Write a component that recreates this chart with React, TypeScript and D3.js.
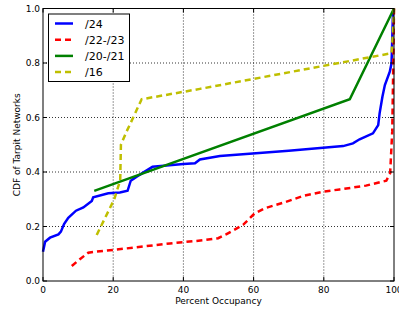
import { useEffect, useRef } from 'react'
import * as d3 from 'd3'

// Percent occupancy (x) vs CDF (y)
const occ24 = [0, 0.6, 2, 4.4, 5.1, 6, 7.2, 9.4, 11.5, 13.9, 14.3, 18.6, 21.9, 24.1, 25, 26.7, 31.2, 40, 43.3, 44.7, 50.4, 70, 85.5, 88.3, 90.2, 94, 95.5, 95.9, 96.7, 97.4, 98.8, 99.3, 99.7, 100]
const cdf24 = [0.107, 0.144, 0.159, 0.171, 0.181, 0.209, 0.232, 0.258, 0.27, 0.294, 0.307, 0.322, 0.325, 0.331, 0.368, 0.383, 0.419, 0.429, 0.432, 0.446, 0.459, 0.478, 0.495, 0.505, 0.52, 0.542, 0.572, 0.615, 0.676, 0.719, 0.768, 0.799, 0.982, 1.0]

const occ2223 = [8.2, 10.5, 12.9, 15.3, 20, 36.2, 46, 49.9, 52.3, 57, 60.3, 63.2, 68.4, 74.1, 79.8, 84.5, 92, 97.8, 98.9, 99.5, 99.8, 100]
const cdf2223 = [0.055, 0.08, 0.104, 0.108, 0.114, 0.138, 0.15, 0.157, 0.172, 0.206, 0.248, 0.267, 0.287, 0.312, 0.328, 0.336, 0.35, 0.368, 0.395, 0.55, 0.8, 1.0]

const occ2021 = [14.6, 87.4, 100]
const cdf2021 = [0.331, 0.667, 1.0]

const occ16 = [15.3, 20.3, 22, 22.2, 23.8, 25.7, 28.1, 44.7, 86.4, 99.3, 99.7, 100]
const cdf16 = [0.169, 0.3, 0.37, 0.5, 0.548, 0.6, 0.667, 0.705, 0.805, 0.836, 0.909, 1.0]

const seriesNames = ['/24', '/22-/23', '/20-/21', '/16']
const seriesColors = ['#0000ff', '#ff0000', '#008000', '#bfbf00']
const seriesDash = ['', '6 4', '', '6 4']

const xTicks = [0, 20, 40, 60, 80, 100]
const yTicks = [0, 0.2, 0.4, 0.6, 0.8, 1.0]

export default function App() {
  const svgRef = useRef<SVGSVGElement>(null)

  useEffect(() => {
    if (!svgRef.current) return
    const width = 399
    const height = 310
    const margin = { top: 8.5, right: 5, bottom: 29, left: 43 }
    const W = width - margin.left - margin.right
    const H = height - margin.top - margin.bottom

    const svg = d3.select(svgRef.current)
    svg.selectAll('*').remove()
    svg.attr('width', width).attr('height', height)

    const x = d3.scaleLinear().domain([0, 100]).range([0, W])
    const y = d3.scaleLinear().domain([0, 1]).range([H, 0])

    const g = svg.append('g').attr('transform', `translate(${margin.left},${margin.top})`)
    const font = 'DejaVu Sans, sans-serif'

    // Grid
    g.append('g')
      .selectAll('line')
      .data(xTicks.slice(1, -1))
      .join('line')
      .attr('x1', d => x(d)).attr('x2', d => x(d))
      .attr('y1', 0).attr('y2', H)
      .attr('stroke', '#000')
      .attr('stroke-width', 0.8)
      .attr('stroke-dasharray', '1 2')
    g.append('g')
      .selectAll('line')
      .data(yTicks.slice(1, -1))
      .join('line')
      .attr('x1', 0).attr('x2', W)
      .attr('y1', d => y(d)).attr('y2', d => y(d))
      .attr('stroke', '#000')
      .attr('stroke-width', 0.8)
      .attr('stroke-dasharray', '1 2')

    // Series
    const data = [
      [occ24, cdf24],
      [occ2223, cdf2223],
      [occ2021, cdf2021],
      [occ16, cdf16],
    ]
    const line = d3.line<[number, number]>()
      .x(d => x(d[0]))
      .y(d => y(d[1]))

    const clip = g.append('clipPath').attr('id', 'plotclip')
    clip.append('rect').attr('x', -2).attr('y', -2).attr('width', W + 4).attr('height', H + 4)

    data.forEach(([xs, ys], i) => {
      const pts = xs.map((v, j) => [v, ys[j]] as [number, number])
      g.append('path')
        .attr('d', line(pts))
        .attr('fill', 'none')
        .attr('stroke', seriesColors[i])
        .attr('stroke-width', 2.5)
        .attr('stroke-dasharray', seriesDash[i] || null)
        .attr('clip-path', 'url(#plotclip)')
    })

    // Frame
    g.append('rect')
      .attr('width', W).attr('height', H)
      .attr('fill', 'none')
      .attr('stroke', '#000')
      .attr('stroke-width', 1)

    // Ticks (inside, all four sides)
    const tl = 4
    xTicks.forEach(t => {
      g.append('line').attr('x1', x(t)).attr('x2', x(t)).attr('y1', H).attr('y2', H - tl).attr('stroke', '#000')
      g.append('line').attr('x1', x(t)).attr('x2', x(t)).attr('y1', 0).attr('y2', tl).attr('stroke', '#000')
      g.append('text')
        .attr('x', x(t)).attr('y', H + 12)
        .attr('text-anchor', 'middle')
        .attr('font-family', font).attr('font-size', 9)
        .text(d3.format('d')(t))
    })
    yTicks.forEach(t => {
      g.append('line').attr('x1', 0).attr('x2', tl).attr('y1', y(t)).attr('y2', y(t)).attr('stroke', '#000')
      g.append('line').attr('x1', W).attr('x2', W - tl).attr('y1', y(t)).attr('y2', y(t)).attr('stroke', '#000')
      g.append('text')
        .attr('x', -3).attr('y', y(t) + 3.3)
        .attr('text-anchor', 'end')
        .attr('font-family', font).attr('font-size', 9)
        .text(d3.format('.1f')(t))
    })

    // Axis labels
    g.append('text')
      .attr('x', W / 2).attr('y', H + 23)
      .attr('text-anchor', 'middle')
      .attr('font-family', font).attr('font-size', 9)
      .text('Percent Occupancy')
    g.append('text')
      .attr('transform', `translate(${-23},${H / 2}) rotate(-90)`)
      .attr('text-anchor', 'middle')
      .attr('font-family', font).attr('font-size', 9)
      .text('CDF of Tarpit Networks')

    // Legend
    const lg = svg.append('g').attr('transform', 'translate(48.5,14)')
    lg.append('rect')
      .attr('width', 81).attr('height', 67.5)
      .attr('fill', '#fff')
      .attr('stroke', '#000')
      .attr('stroke-width', 1)
    seriesNames.forEach((name, i) => {
      const ly = 9.5 + i * 16.2
      lg.append('line')
        .attr('x1', 6.5).attr('x2', 24.5)
        .attr('y1', ly).attr('y2', ly)
        .attr('stroke', seriesColors[i])
        .attr('stroke-width', 2.5)
        .attr('stroke-dasharray', seriesDash[i] || null)
      lg.append('text')
        .attr('x', 36.5).attr('y', ly + 4)
        .attr('font-family', font).attr('font-size', 11)
        .text(name)
    })
  }, [])

  return (
    <div style={{ position: 'fixed', left: 0, top: 0, background: '#fff' }}>
      <svg ref={svgRef} style={{ display: 'block' }} />
    </div>
  )
}
